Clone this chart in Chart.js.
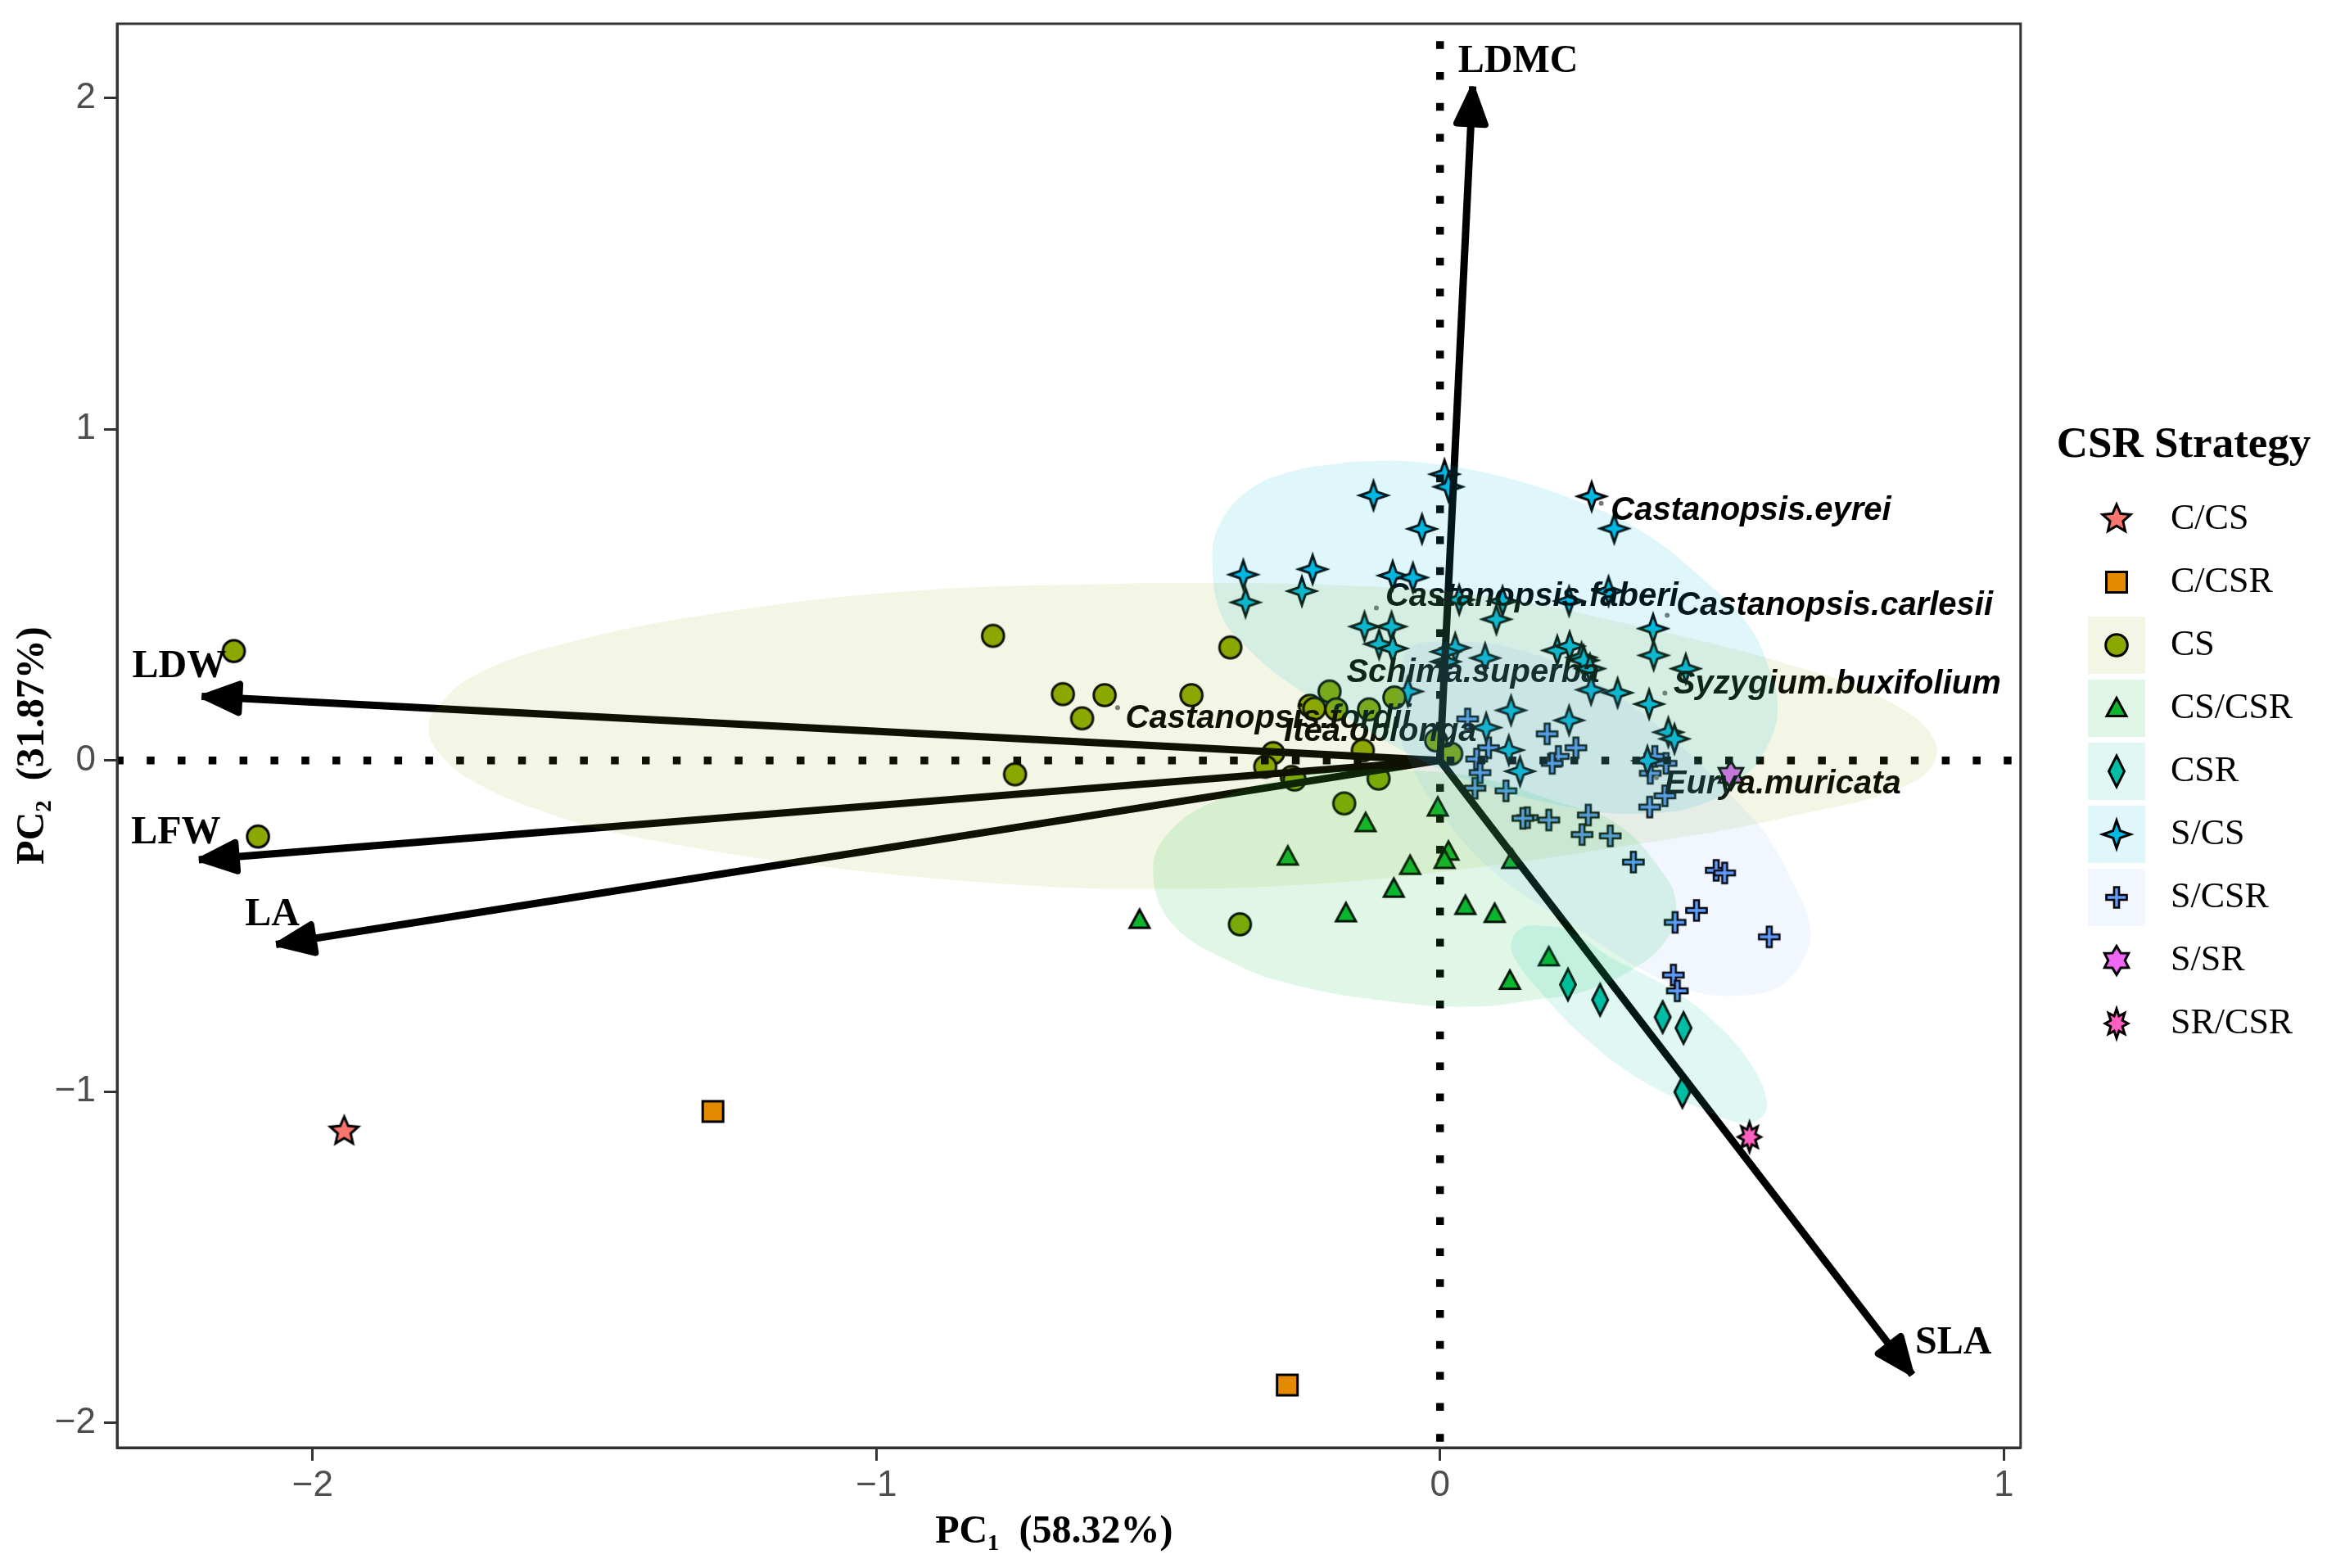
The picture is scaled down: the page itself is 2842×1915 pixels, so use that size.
<!DOCTYPE html>
<html>
<head>
<meta charset="utf-8">
<title>CSR Strategy PCA</title>
<script src="https://cdn.jsdelivr.net/npm/chart.js@4"></script>
<style>
  html, body { margin: 0; padding: 0; background: #fff; }
  canvas { display: block; }
</style>
</head>
<body>
<canvas id="myChart" width="2842" height="1915"></canvas>
<script>
//////// data
const groupNames = ['C/CS', 'C/CSR', 'CS', 'CS/CSR', 'CSR', 'S/CS', 'S/CSR', 'S/SR', 'SR/CSR'];
const groupColors = ['#F8766D', '#E58A00', '#8AA800', '#0CB52C', '#00BFA5', '#00B9E3', '#619CFF', '#EE67F5', '#FF5FC0'];

const cCsPoints = [[-1.944, -1.12]];
const cCsrPoints = [[-1.29, -1.06], [-0.271, -1.886]];
const csPoints = [[-2.14, 0.33], [-2.097, -0.23], [-0.793, 0.376], [-0.669, 0.2], [-0.635, 0.127], [-0.595, 0.197],
  [-0.441, 0.197], [-0.372, 0.341], [-0.754, -0.042], [-0.355, -0.495], [-0.196, 0.208], [-0.231, 0.165],
  [-0.223, 0.156], [-0.184, 0.154], [-0.126, 0.154], [-0.081, 0.19], [-0.296, 0.022], [-0.31, -0.019],
  [-0.263, -0.05], [-0.258, -0.058], [-0.137, 0.03], [-0.109, -0.055], [-0.17, -0.13], [-0.007, 0.06], [0.02, 0.02]];
const csCsrPoints = [[-0.533, -0.482], [-0.27, -0.291], [-0.132, -0.19], [-0.167, -0.462], [-0.082, -0.388],
  [-0.053, -0.319], [-0.004, -0.143], [0.015, -0.276], [0.008, -0.301], [0.128, -0.301], [0.045, -0.44],
  [0.097, -0.464], [0.193, -0.595], [0.124, -0.666]];
const csrPoints = [[0.227, -0.677], [0.284, -0.723], [0.395, -0.775], [0.432, -0.808], [0.43, -1.001]];
const sCsPoints = [[0.008, 0.864], [0.015, 0.826], [-0.118, 0.8], [0.269, 0.797], [0.309, 0.7], [-0.032, 0.699],
  [-0.349, 0.561], [-0.226, 0.577], [-0.245, 0.511], [-0.345, 0.477], [-0.084, 0.558], [-0.048, 0.552],
  [0.034, 0.485], [0.111, 0.481], [0.229, 0.481], [0.299, 0.511], [0.1, 0.426], [-0.134, 0.404], [-0.086, 0.404],
  [-0.108, 0.351], [-0.084, 0.338], [0.378, 0.398], [0.379, 0.317], [0.436, 0.277], [0.027, 0.34], [0.01, 0.328],
  [0.01, 0.298], [0.08, 0.309], [0.208, 0.332], [0.23, 0.345], [0.251, 0.311], [0.255, 0.302], [0.266, 0.277],
  [0.268, 0.213], [0.315, 0.204], [0.371, 0.17], [-0.057, 0.208], [0.126, 0.151], [0.229, 0.121], [0.082, 0.099],
  [0.122, 0.031], [0.142, -0.033], [0.405, 0.085], [0.416, 0.065], [0.368, -0.001]];
const sCsrPoints = [[0.252, -0.224], [0.302, -0.228], [0.343, -0.307], [0.49, -0.332], [0.505, -0.34], [0.455, -0.453],
  [0.417, -0.489], [0.584, -0.533], [0.414, -0.648], [0.421, -0.696], [0.049, 0.125], [0.086, 0.038], [0.065, 0.004],
  [0.071, -0.037], [0.062, -0.084], [0.117, -0.092], [0.19, 0.08], [0.21, 0.012], [0.199, -0.009], [0.241, 0.038],
  [0.373, -0.039], [0.381, 0.012], [0.401, -0.009], [0.399, -0.107], [0.372, -0.141], [0.155, -0.173], [0.147, -0.175],
  [0.193, -0.18], [0.263, -0.165]];
const sSrPoints = [[0.516, -0.045]];
const srCsrPoints = [[0.549, -1.137]];
const groupPoints = [cCsPoints, cCsrPoints, csPoints, csCsrPoints, csrPoints, sCsPoints, sCsrPoints, sSrPoints, srCsrPoints];

// outlines of the shaded regions, first point repeated at the end
const csOutline = [[-0.513, 0.536], [-0.184, 0.529], [0.079, 0.497], [0.342, 0.408], [0.606, 0.296], [0.79, 0.184],
  [0.88, 0.049], [0.843, -0.063], [0.606, -0.175], [0.342, -0.255], [0.026, -0.332], [-0.25, -0.376], [-0.513, -0.388],
  [-0.746, -0.376], [-1.116, -0.316], [-1.44, -0.227], [-1.58, -0.161], [-1.709, -0.069], [-1.775, 0.02], [-1.795, 0.104],
  [-1.775, 0.168], [-1.718, 0.252], [-1.58, 0.341], [-1.301, 0.44], [-0.93, 0.512], [-0.513, 0.536]];
const csCsrOutline = [[-0.113, -0.025], [0.061, -0.049], [0.206, -0.124], [0.315, -0.193], [0.4, -0.351], [0.419, -0.44],
  [0.406, -0.532], [0.349, -0.623], [0.25, -0.7], [0.172, -0.722], [0.055, -0.744], [-0.084, -0.729], [-0.254, -0.68],
  [-0.366, -0.613], [-0.477, -0.49], [-0.509, -0.326], [-0.477, -0.21], [-0.394, -0.119], [-0.259, -0.049], [-0.113, -0.025]];
const csrOutline = [[0.305, -0.598], [0.416, -0.697], [0.5, -0.811], [0.555, -0.927], [0.58, -1.033], [0.567, -1.083],
  [0.528, -1.093], [0.472, -1.058], [0.36, -0.969], [0.25, -0.828], [0.177, -0.697], [0.138, -0.613], [0.126, -0.556],
  [0.144, -0.507], [0.177, -0.499], [0.227, -0.514], [0.305, -0.598]];
const sCsOutline = [[-0.157, 0.902], [-0.047, 0.902], [0.102, 0.86], [0.25, 0.779], [0.362, 0.687], [0.472, 0.539],
  [0.547, 0.408], [0.584, 0.277], [0.599, 0.161], [0.584, 0.054], [0.547, -0.037], [0.472, -0.128], [0.346, -0.161],
  [0.214, -0.136], [0.065, -0.069], [-0.047, 0.012], [-0.173, 0.136], [-0.269, 0.235], [-0.343, 0.341], [-0.388, 0.44],
  [-0.404, 0.606], [-0.391, 0.712], [-0.343, 0.811], [-0.269, 0.87], [-0.157, 0.902]];
const sCsrOutline = [[0.102, 0.351], [0.214, 0.292], [0.324, 0.185], [0.436, 0.03], [0.547, -0.161], [0.583, -0.235],
  [0.628, -0.376], [0.656, -0.499], [0.65, -0.581], [0.605, -0.68], [0.533, -0.71], [0.449, -0.697], [0.349, -0.623],
  [0.227, -0.49], [0.11, -0.358], [0.016, -0.193], [-0.054, -0.005], [-0.076, 0.136], [-0.068, 0.26], [-0.054, 0.341],
  [0.028, 0.358], [0.102, 0.351]];
const regionNames = ['CS', 'CS/CSR', 'CSR', 'S/CS', 'S/CSR'];
const regionOutlines = [csOutline, csCsrOutline, csrOutline, sCsOutline, sCsrOutline];
const regionFills = ['rgba(138,168,0,0.105)', 'rgba(0,186,56,0.12)', 'rgba(0,191,165,0.12)', 'rgba(0,185,227,0.125)', 'rgba(97,156,255,0.085)'];

// loadings
const arrowNames = ['LDMC', 'LDW', 'LFW', 'LA', 'SLA'];
const arrowTips = [[0.058, 2.035], [-2.197, 0.193], [-2.202, -0.3], [-2.065, -0.556], [0.838, -1.855]];
const arrowLabels = [[0.032, 2.11], [-2.32, 0.282], [-2.322, -0.22], [-2.12, -0.466], [0.843, -1.761]];

const speciesNames = ['Castanopsis.eyrei', 'Castanopsis.faberi', 'Castanopsis.carlesii', 'Schima.superba',
  'Syzygium.buxifolium', 'Castanopsis.fordii', 'Itea.oblonga', 'Eurya.muricata'];
const speciesLabels = [[0.303, 0.753], [-0.097, 0.493], [0.419, 0.466], [-0.166, 0.264], [0.414, 0.228],
  [-0.558, 0.125], [-0.277, 0.085], [0.398, -0.072]];
const speciesDots = [[0.286, 0.776], [-0.113, 0.46], [0.403, 0.438], [0.399, 0.203], [0.384, -0.052], [-0.572, 0.159]];

const xRange = [-2.347, 1.03];
const yRange = [-2.075, 2.224];
const xTicks = [-2, -1, 0, 1];
const yTicks = [-2, -1, 0, 1, 2];

//////// marker shapes
const markerSize = 50;
function starPath(ctx, tips, rx, ry, inner, startAngle) {
  ctx.beginPath();
  for (let i = 0; i < tips * 2; i++) {
    const a = startAngle + (i * Math.PI) / tips;
    const k = i % 2 === 0 ? 1 : inner;
    const px = Math.cos(a) * rx * k;
    const py = Math.sin(a) * ry * k;
    if (i === 0) ctx.moveTo(px, py);
    else ctx.lineTo(px, py);
  }
  ctx.closePath();
}
const shapes = {
  star5: (ctx) => starPath(ctx, 5, 18, 18, 0.46, -Math.PI / 2),
  square: (ctx) => { ctx.beginPath(); ctx.rect(-12.5, -12.5, 25, 25); },
  circle: (ctx) => { ctx.beginPath(); ctx.arc(0, 0, 13.3, 0, Math.PI * 2); },
  triangle: (ctx) => {
    ctx.beginPath(); ctx.moveTo(0, -12.5); ctx.lineTo(12, 9.5); ctx.lineTo(-12, 9.5); ctx.closePath();
  },
  diamond: (ctx) => {
    ctx.beginPath(); ctx.moveTo(0, -19); ctx.lineTo(9.5, 0); ctx.lineTo(0, 19); ctx.lineTo(-9.5, 0); ctx.closePath();
  },
  star4: (ctx) => starPath(ctx, 4, 17, 17, 0.36, -Math.PI / 2),
  plus: (ctx) => {
    const a = 3, b = 12.5;
    ctx.beginPath();
    ctx.moveTo(-a, -b); ctx.lineTo(a, -b); ctx.lineTo(a, -a); ctx.lineTo(b, -a); ctx.lineTo(b, a); ctx.lineTo(a, a);
    ctx.lineTo(a, b); ctx.lineTo(-a, b); ctx.lineTo(-a, a); ctx.lineTo(-b, a); ctx.lineTo(-b, -a); ctx.lineTo(-a, -a);
    ctx.closePath();
  },
  star6: (ctx) => starPath(ctx, 6, 17, 17.5, 0.6, -Math.PI / 2),
  star8: (ctx) => starPath(ctx, 8, 14, 18, 0.55, -Math.PI / 2),
};
const groupShapes = ['star5', 'square', 'circle', 'triangle', 'diamond', 'star4', 'plus', 'star6', 'star8'];

function makeMarker(shape, color) {
  const c = document.createElement('canvas');
  c.width = markerSize;
  c.height = markerSize;
  const ctx = c.getContext('2d');
  ctx.translate(markerSize / 2, markerSize / 2);
  shapes[shape](ctx);
  ctx.fillStyle = color;
  ctx.fill();
  ctx.lineWidth = shape === 'plus' ? 2.6 : 3;
  ctx.strokeStyle = '#000';
  ctx.lineJoin = 'miter';
  ctx.stroke();
  return c;
}

const toXY = (list) => list.map((p) => ({ x: p[0], y: p[1] }));

//////// datasets
const datasets = [];
groupNames.forEach((name, i) => {
  datasets.push({
    label: name,
    data: toXY(groupPoints[i]),
    pointStyle: makeMarker(groupShapes[i], groupColors[i]),
    pointRadius: 18,
    backgroundColor: groupColors[i],
    borderColor: '#000',
    showLine: false,
    order: 30 + i,
  });
});
regionNames.forEach((name, i) => {
  datasets.push({
    label: name + ' region',
    data: toXY(regionOutlines[i]),
    showLine: true,
    fill: 'shape',
    tension: 0.4,
    backgroundColor: regionFills[i],
    borderWidth: 0,
    borderColor: 'rgba(0,0,0,0)',
    pointRadius: 0,
    order: 5 - i,
  });
});
arrowNames.forEach((name, i) => {
  datasets.push({
    label: name,
    data: toXY([[0, 0], arrowTips[i]]),
    showLine: true,
    borderColor: '#000',
    borderWidth: 9,
    pointRadius: 0,
    fill: false,
    order: 10,
  });
});
datasets.push({
  label: 'zero x',
  data: toXY([[xRange[0], 0], [xRange[1], 0]]),
  showLine: true, borderColor: '#000', borderWidth: 9.5, borderDash: [9.5, 28.3], borderDashOffset: 1.6, pointRadius: 0, order: 11,
});
datasets.push({
  label: 'zero y',
  data: toXY([[0, yRange[1]], [0, yRange[0]]]),
  showLine: true, borderColor: '#000', borderWidth: 9.5, borderDash: [9.5, 28.3], borderDashOffset: 16.6, pointRadius: 0, order: 12,
});
datasets.push({
  label: 'species',
  data: toXY(speciesDots),
  showLine: false, pointRadius: 3, pointStyle: 'circle', backgroundColor: '#777', borderWidth: 0, order: 13,
});

//////// plugins
const LEGEND_LEFT = 2508;
const LEGEND_TOP = 518;

// puts the legend where the reference has it, the chart area stays as laid out
const legendPlace = {
  id: 'legendPlace',
  afterLayout(chart) {
    const lg = chart.legend;
    const dy = LEGEND_TOP - lg.top;
    lg.left = LEGEND_LEFT; lg.right = lg.left + 318; lg.width = 318;
    lg.top += dy; lg.bottom += dy;
    lg.legendHitBoxes.forEach((b) => { b.top += dy; });
  },
  beforeDraw(chart) {
    const { ctx, legend } = chart;
    ctx.save();
    ctx.fillStyle = '#fff';
    ctx.fillRect(0, 0, chart.width, chart.height);
    regionNames.forEach((name, i) => {
      const k = groupNames.indexOf(name);
      const box = legend.legendHitBoxes[k];
      ctx.fillStyle = regionFills[i];
      ctx.fillRect(LEGEND_LEFT + 33 + 44 - 35, box.top + box.height / 2 - 35, 70, 70);
    });
    ctx.restore();
  },
};

// arrow heads and text sit under the shaded regions, so they go right after the last arrow
const arrowText = {
  id: 'arrowText',
  afterDatasetDraw(chart, args) {
    if (chart.data.datasets[args.index].label !== 'LDMC') return;
    const { ctx, scales: { x, y } } = chart;
    ctx.save();
    ctx.fillStyle = '#000';
    ctx.strokeStyle = '#000';
    arrowTips.forEach((tip) => {
      const tx = x.getPixelForValue(tip[0]);
      const ty = y.getPixelForValue(tip[1]);
      const a = Math.atan2(ty - y.getPixelForValue(0), tx - x.getPixelForValue(0));
      ctx.save();
      ctx.translate(tx, ty);
      ctx.rotate(a);
      ctx.beginPath();
      ctx.moveTo(-4, 0);
      ctx.lineTo(-46, 17.5);
      ctx.lineTo(-46, -17.5);
      ctx.closePath();
      ctx.fill();
      ctx.lineJoin = 'round';
      ctx.lineWidth = 8;
      ctx.stroke();
      ctx.restore();
    });
    ctx.textAlign = 'left';
    ctx.textBaseline = 'middle';
    ctx.font = 'bold 48px "Liberation Serif"';
    arrowNames.forEach((name, i) => {
      ctx.fillText(name, x.getPixelForValue(arrowLabels[i][0]), y.getPixelForValue(arrowLabels[i][1]));
    });
    ctx.font = 'italic bold 40px "Liberation Sans"';
    speciesNames.forEach((name, i) => {
      ctx.fillText(name, x.getPixelForValue(speciesLabels[i][0]), y.getPixelForValue(speciesLabels[i][1]));
    });
    ctx.restore();
  },
  afterDraw(chart) {
    const { ctx, chartArea: a } = chart;
    ctx.save();
    ctx.strokeStyle = '#333';
    ctx.lineWidth = 3;
    ctx.strokeRect(a.left, a.top, a.right - a.left, a.bottom - a.top);
    ctx.restore();
  },
};

const tickLabel = (v) => String(v).replace('-', '\u2212');

//////// chart
const chart = new Chart(document.getElementById('myChart').getContext('2d'), {
  type: 'scatter',
  data: { datasets },
  plugins: [legendPlace, arrowText],
  options: {
    responsive: false,
    devicePixelRatio: 1,
    animation: false,
    events: [],
    layout: { padding: { left: 0, top: 29, right: 72, bottom: 0 } },
    plugins: {
      tooltip: { enabled: false },
      legend: {
        position: 'right',
        align: 'start',
        title: {
          display: true,
          text: 'CSR Strategy',
          position: 'center',
          color: '#000',
          padding: { top: 0, bottom: 8 },
          font: { family: '"Liberation Serif"', size: 53, weight: 'bold', lineHeight: 1 },
        },
        labels: {
          usePointStyle: true,
          pointStyleWidth: 88,
          padding: 33,
          color: '#000',
          font: { family: '"Liberation Serif"', size: 44, lineHeight: 1 },
          filter: (item) => item.datasetIndex < groupNames.length,
        },
      },
    },
    scales: {
      x: {
        type: 'linear',
        min: xRange[0],
        max: xRange[1],
        afterBuildTicks: (axis) => { axis.ticks = xTicks.map((v) => ({ value: v })); },
        afterFit: (axis) => { axis.height = 147; axis.paddingLeft = 0; axis.paddingRight = 0; },
        grid: { drawOnChartArea: false, tickLength: 16, tickWidth: 3, tickColor: '#333', color: '#333' },
        border: { color: '#333', width: 3 },
        ticks: {
          padding: 4, color: '#4D4D4D', maxRotation: 0, callback: tickLabel,
          font: { family: '"Liberation Sans"', size: 44 },
        },
        title: {
          display: true,
          text: 'PC\u2081  (58.32%)\u00A0\u00A0\u00A0',
          color: '#000',
          padding: { top: 0, bottom: 15 },
          font: { family: '"Liberation Serif"', size: 48, weight: 'bold' },
        },
      },
      y: {
        type: 'linear',
        min: yRange[0],
        max: yRange[1],
        afterBuildTicks: (axis) => { axis.ticks = yTicks.map((v) => ({ value: v })); },
        afterFit: (axis) => { axis.width = 143; axis.paddingTop = 0; axis.paddingBottom = 0; },
        grid: { drawOnChartArea: false, tickLength: 16, tickWidth: 3, tickColor: '#333', color: '#333' },
        border: { color: '#333', width: 3 },
        ticks: {
          padding: 10, color: '#4D4D4D', callback: tickLabel,
          font: { family: '"Liberation Sans"', size: 44 },
        },
        title: {
          display: true,
          text: 'PC\u2082  (31.87%)\u00A0\u00A0',
          color: '#000',
          padding: { top: 12, bottom: 0 },
          font: { family: '"Liberation Serif"', size: 48, weight: 'bold' },
        },
      },
    },
  },
});
</script>
</body>
</html>
